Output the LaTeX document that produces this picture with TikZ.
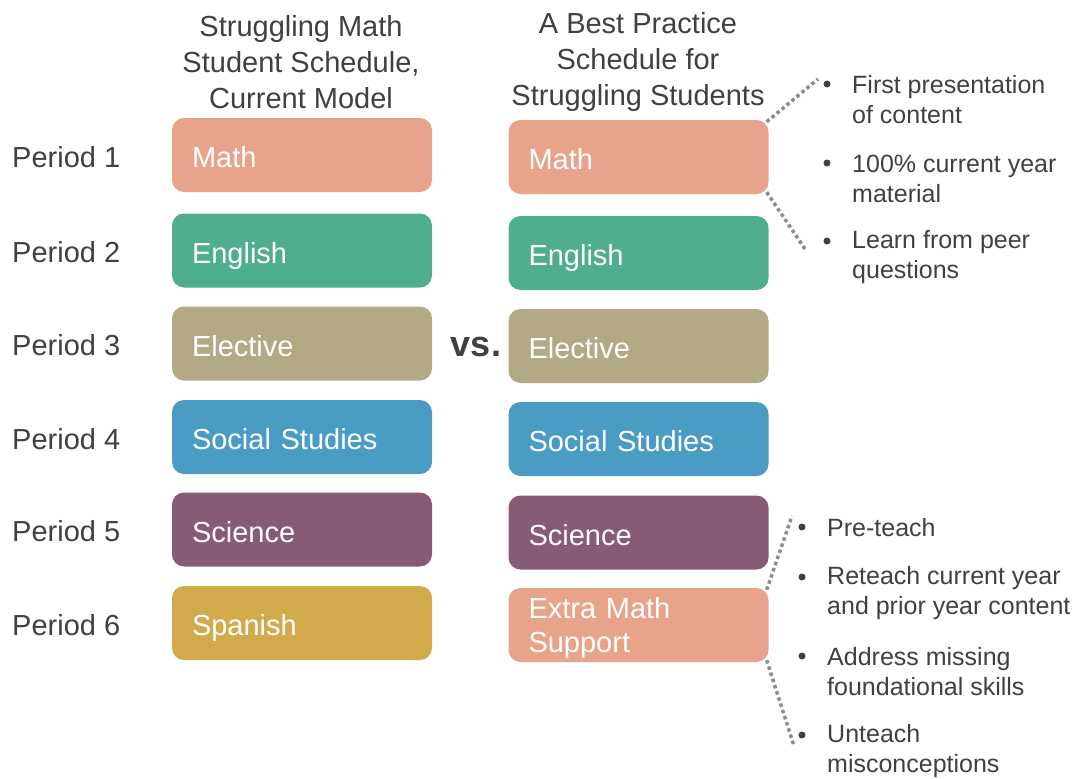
\documentclass[tikz,border=0pt]{standalone}
\usepackage{fontspec}
\setmainfont{Liberation Sans}
\definecolor{txt}{HTML}{404040}
\definecolor{cMath}{HTML}{E8A38B}
\definecolor{cEng}{HTML}{4FAE8C}
\definecolor{cElec}{HTML}{B3A984}
\definecolor{cSoc}{HTML}{4A9CC4}
\definecolor{cSci}{HTML}{875B76}
\definecolor{cSpa}{HTML}{D2AA4B}
\definecolor{dotc}{HTML}{8C8C8C}
\tikzset{
  subj/.style={fill=#1, rounded corners=12pt, text=white, inner xsep=20pt, inner ysep=0pt,
    text width=220pt, minimum height=74pt, align=left, font=\fontsize{29}{34}\selectfont},
  one/.style={text height=25pt, text depth=0pt},
  period/.style={anchor=west, text=txt, inner sep=0pt, font=\fontsize{29}{34}\selectfont},
  heading/.style={align=center, text=txt, inner sep=0pt, font=\fontsize{29}{36}\selectfont},
  bul/.style={anchor=west, text=txt, inner sep=0pt, align=left, font=\fontsize{25}{30}\selectfont},
  dotbul/.style={circle, fill=txt, inner sep=0pt, minimum size=7pt},
  leader/.style={draw=dotc, line width=3.5pt, dash pattern=on 3.5pt off 3pt}
}
\begin{document}
\begin{tikzpicture}[x=1pt,y=-1pt]
\useasboundingbox (0,0) rectangle (1077,779);
% headings
\node[heading] (hl) at (301,62) {Struggling Math\\Student Schedule,\\Current Model};
\node[heading] (hr) at (638,62) {A Best Practice\\Schedule for\\Struggling Students};
% period labels
\node[period] (p1) at (12,157) {Period 1};
\node[period] (p2) at (12,252) {Period 2};
\node[period] (p3) at (12,345) {Period 3};
\node[period] (p4) at (12,439) {Period 4};
\node[period] (p5) at (12,531) {Period 5};
\node[period] (p6) at (12,625) {Period 6};
% left column
\node[subj=cMath,one] (l1) at (302,155) {Math};
\node[subj=cEng,one]  (l2) at (302,250.5) {English};
\node[subj=cElec,one] (l3) at (302,343.5) {Elective};
\node[subj=cSoc,one]  (l4) at (302,437) {Social Studies};
\node[subj=cSci,one]  (l5) at (302,529.5) {Science};
\node[subj=cSpa,one]  (l6) at (302,623) {Spanish};
% vs
\node[text=txt, inner sep=0pt, font=\fontsize{36}{40}\selectfont\bfseries] (vs) at (476,347) {vs.};
% right column
\node[subj=cMath,one] (r1) at (638.5,157) {Math};
\node[subj=cEng,one]  (r2) at (638.5,253) {English};
\node[subj=cElec,one] (r3) at (638.5,346) {Elective};
\node[subj=cSoc,one]  (r4) at (638.5,439) {Social Studies};
\node[subj=cSci,one]  (r5) at (638.5,532.5) {Science};
\node[subj=cMath,text height=27pt] (r6) at (638.5,625) {Extra Math\\Support};
% top bullets
\node[dotbul] (b1) at (827,84) {};
\node[bul] (t1) at (852,100) {First presentation\\of content};
\node[dotbul] (b2) at (827,163) {};
\node[bul] (t2) at (852,179) {100\% current year\\material};
\node[dotbul] (b3) at (827,241) {};
\node[bul] (t3) at (852,257) {Learn from peer\\questions};
% bottom bullets
\node[dotbul] (c1) at (802,527) {};
\node[bul] (u1) at (827,528) {Pre-teach};
\node[dotbul] (c2) at (802,577) {};
\node[bul] (u2) at (827,593) {Reteach current year\\and prior year content};
\node[dotbul] (c3) at (802,656) {};
\node[bul] (u3) at (827,672) {Address missing\\foundational skills};
\node[dotbul] (c4) at (802,735) {};
\node[bul] (u4) at (827,751) {Unteach\\misconceptions};
% leaders
\coordinate (e1) at (818,79);
\coordinate (e2) at (805,249);
\coordinate (e3) at (792,516);
\coordinate (e4) at (794,746);
\draw[leader] ([xshift=-2pt,yshift=-2pt]r1.north east) -- (e1);
\draw[leader] ([xshift=-2pt,yshift=2pt]r1.south east) -- (e2);
\draw[leader] ([xshift=-2pt,yshift=-2pt]r6.north east) -- (e3);
\draw[leader] ([xshift=-2pt,yshift=2pt]r6.south east) -- (e4);
\end{tikzpicture}
\end{document}
